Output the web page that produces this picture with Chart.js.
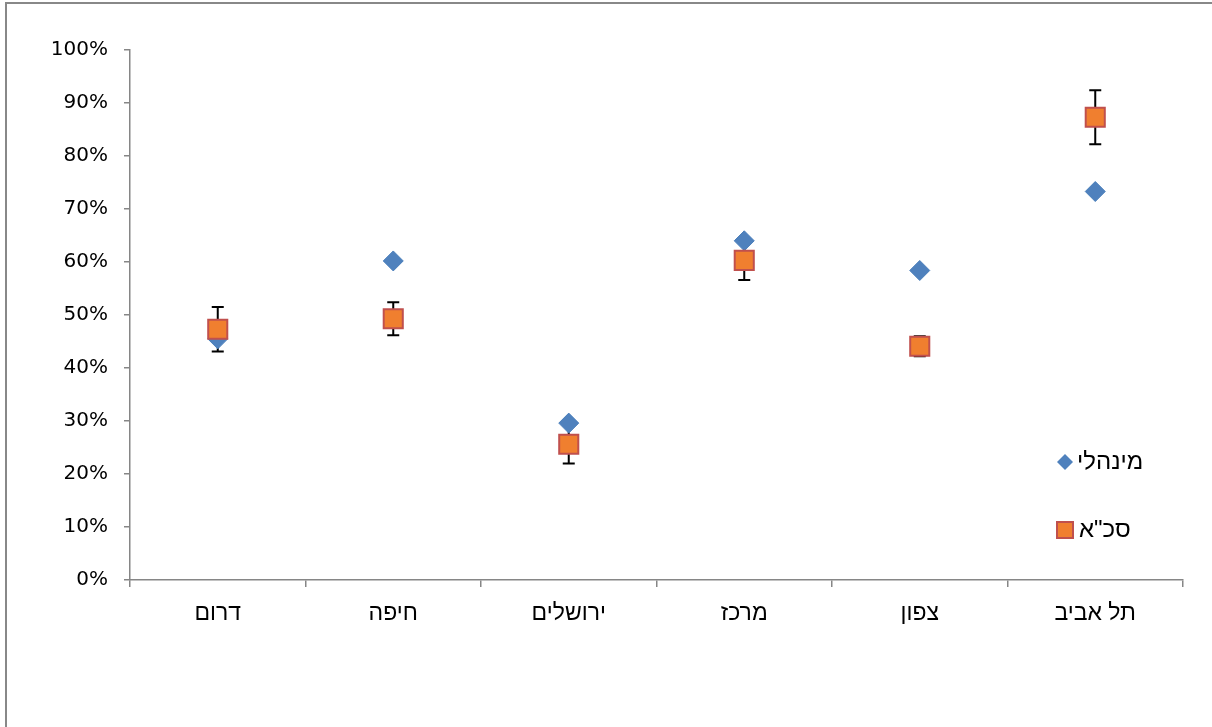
<!DOCTYPE html>
<html>
<head>
<meta charset="utf-8">
<script src="https://cdn.jsdelivr.net/npm/chart.js@4/dist/chart.umd.min.js"></script>
<style>
html,body{margin:0;padding:0;background:#fff;overflow:hidden;}
#frame{position:absolute;left:5px;top:2px;width:1300px;height:1000px;border:2px solid #888;}
#wrap{position:absolute;left:0;top:0;width:1212px;height:727px;}
</style>
</head>
<body>
<div id="frame"></div>
<div id="wrap"><canvas id="c" width="1212" height="727"></canvas></div>
<script>
const categories = ["דרום", "חיפה", "ירושלים", "מרכז", "צפון", "תל אביב"];
const seriesNames = ["מינהלי", "סכ\"א"];
const adminValues = [45.5, 60.2, 29.6, 64.0, 58.4, 73.3];
const skaValues = [47.3, 49.3, 25.6, 60.3, 44.1, 87.3];
const skaErrors = [4.2, 3.1, 3.6, 3.7, 1.9, 5.1];
const yTicks = [0, 10, 20, 30, 40, 50, 60, 70, 80, 90, 100];

const NUMFONT = "'DejaVu Sans', sans-serif";
const HEBFONT = "'Liberation Sans', Arial, sans-serif";
const AXIS = '#868686';

const errorBarPlugin = {
  id: 'errorBars',
  beforeDatasetsDraw(chart) {
    const {ctx, scales: {x, y}} = chart;
    ctx.save();
    ctx.strokeStyle = '#000';
    ctx.lineWidth = 2;
    skaValues.forEach((v, i) => {
      const px = x.getPixelForValue(i);
      const top = y.getPixelForValue(v + skaErrors[i]);
      const bot = y.getPixelForValue(v - skaErrors[i]);
      ctx.beginPath();
      ctx.moveTo(px, top); ctx.lineTo(px, bot);
      ctx.moveTo(px - 6, top); ctx.lineTo(px + 6, top);
      ctx.moveTo(px - 6, bot); ctx.lineTo(px + 6, bot);
      ctx.stroke();
    });
    ctx.restore();
  }
};

const legendPlugin = {
  id: 'customLegend',
  afterDraw(chart) {
    const ctx = chart.ctx;
    ctx.save();
    const dx = 1065, dy = 462;
    ctx.fillStyle = '#4F81BD';
    ctx.beginPath();
    ctx.moveTo(dx, dy - 8); ctx.lineTo(dx + 8, dy); ctx.lineTo(dx, dy + 8); ctx.lineTo(dx - 8, dy); ctx.closePath();
    ctx.fill();
    ctx.fillStyle = '#F07F2F';
    ctx.strokeStyle = '#C0504D';
    ctx.lineWidth = 2;
    ctx.fillRect(1057, 522, 16, 16);
    ctx.strokeRect(1057, 522, 16, 16);
    ctx.fillStyle = '#000';
    ctx.font = '24px ' + HEBFONT;
    ctx.textAlign = 'left';
    ctx.textBaseline = 'middle';
    ctx.fillText(seriesNames[0], 1077, dy);
    ctx.fillText(seriesNames[1], 1079, 530);
    ctx.restore();
  }
};

new Chart(document.getElementById('c'), {
  type: 'line',
  data: {
    labels: categories,
    datasets: [
      {
        label: seriesNames[0],
        data: adminValues,
        showLine: false,
        pointStyle: 'rectRot',
        pointRadius: 10,
        backgroundColor: '#4F81BD',
        borderColor: '#4A7EBB',
        borderWidth: 1,
        order: 2
      },
      {
        label: seriesNames[1],
        data: skaValues,
        showLine: false,
        pointStyle: 'rect',
        pointRadius: 13.5,
        backgroundColor: '#F07F2F',
        borderColor: '#C0504D',
        borderWidth: 2,
        order: 1
      }
    ]
  },
  options: {
    responsive: false,
    animation: false,
    devicePixelRatio: 1,
    layout: {padding: {left: 0, top: 50, right: 29, bottom: 0}},
    plugins: {legend: {display: false}, tooltip: {enabled: false}},
    scales: {
      x: {
        type: 'category',
        offset: true,
        grid: {offset: true, drawOnChartArea: false, drawTicks: true, tickLength: 7, color: AXIS, lineWidth: 1.5},
        border: {color: AXIS, width: 1.5},
        ticks: {color: '#000', font: {family: HEBFONT, size: 23}, padding: 13, maxRotation: 0},
        afterFit(s) { s.height = 147; }
      },
      y: {
        min: 0, max: 100,
        afterBuildTicks(s) { s.ticks = yTicks.map(v => ({value: v})); },
        grid: {drawOnChartArea: false, drawTicks: true, tickLength: 6, color: AXIS, lineWidth: 1.5},
        border: {color: AXIS, width: 1.5},
        ticks: {color: '#000', font: {family: NUMFONT, size: 20}, padding: 16, callback: v => v + '%'},
        afterFit(s) { s.width = 130; }
      }
    }
  },
  plugins: [errorBarPlugin, legendPlugin]
});
</script>
</body>
</html>
